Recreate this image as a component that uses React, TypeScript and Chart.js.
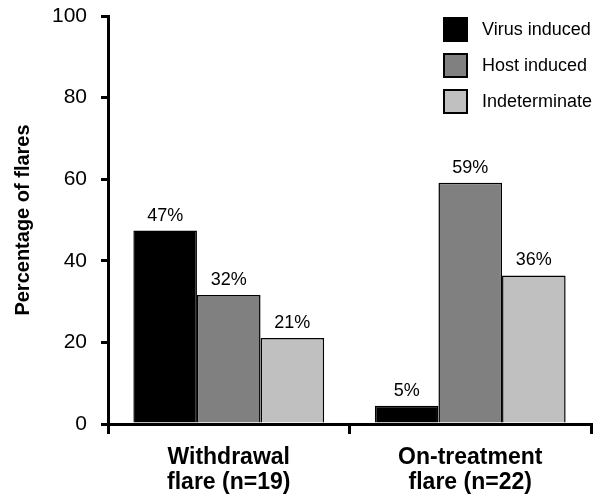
import React, { useEffect, useRef } from "react";
import { Chart, registerables } from "chart.js";

Chart.register(...registerables);

const categories: string[][] = [
  ["Withdrawal", "flare (n=19)"],
  ["On-treatment", "flare (n=22)"],
];
const seriesNames = ["Virus induced", "Host induced", "Indeterminate"];
const virusInduced = [47.4, 4.5];
const hostInduced = [31.6, 59.1];
const indeterminate = [21.1, 36.4];
const yTicks = [0, 20, 40, 60, 80, 100];
const colors = ["#000000", "#808080", "#c0c0c0"];

const FONT = '"Liberation Sans", Arial, Helvetica, sans-serif';

const labelPlugin = {
  id: "barLabels",
  afterDatasetsDraw(chart: any) {
    const ctx = chart.ctx;
    ctx.save();
    ctx.font = `18px ${FONT}`;
    ctx.fillStyle = "#000";
    ctx.textAlign = "center";
    ctx.textBaseline = "alphabetic";
    chart.data.datasets.forEach((ds: any, di: number) => {
      const meta = chart.getDatasetMeta(di);
      meta.data.forEach((bar: any, i: number) => {
        const v = ds.data[i];
        ctx.fillText(Math.round(v) + "%", bar.x, bar.y - 10);
      });
    });
    ctx.restore();
  },
};

const axisExtPlugin = {
  id: "axisExt",
  afterDraw(chart: any) {
    const ctx = chart.ctx;
    const area = chart.chartArea;
    ctx.save();
    ctx.strokeStyle = "#000";
    ctx.lineWidth = 3;
    ctx.beginPath();
    ctx.moveTo(area.left - 6, area.bottom + 0.5);
    ctx.lineTo(area.left, area.bottom + 0.5);
    ctx.stroke();
    ctx.restore();
  },
};

const legendPlugin = {
  id: "customLegend",
  afterDraw(chart: any) {
    const ctx = chart.ctx;
    const area = chart.chartArea;
    const boxX = area.right - 148;
    const startY = area.top + 1;
    const box = 25;
    const gap = 36;
    ctx.save();
    ctx.font = `18px ${FONT}`;
    ctx.textAlign = "left";
    ctx.textBaseline = "middle";
    chart.data.datasets.forEach((ds: any, i: number) => {
      const y = startY + i * gap;
      ctx.fillStyle = ds.backgroundColor;
      ctx.fillRect(boxX, y, box, box);
      ctx.lineWidth = 2;
      ctx.strokeStyle = "#000";
      ctx.strokeRect(boxX + 1, y + 1, box - 2, box - 2);
      ctx.fillStyle = "#000";
      ctx.fillText(ds.label, boxX + 39, y + box / 2 + 1);
    });
    ctx.restore();
  },
};

export default function App() {
  const ref = useRef<HTMLCanvasElement | null>(null);
  useEffect(() => {
    document.body.style.margin = "0";
    const canvas = ref.current;
    if (!canvas) return;
    const seriesData = [virusInduced, hostInduced, indeterminate];
    const chart = new Chart(canvas, {
      type: "bar",
      data: {
        labels: categories,
        datasets: seriesNames.map((name, i) => ({
          label: name,
          data: seriesData[i],
          backgroundColor: colors[i],
          borderColor: "#000",
          borderWidth: 1.5,
          barPercentage: 1,
          categoryPercentage: 0.79,
        })),
      },
      options: {
        animation: false,
        responsive: false,
        maintainAspectRatio: false,
        devicePixelRatio: 1,
        layout: { padding: { top: 16, right: 8, left: 0, bottom: 0 } },
        plugins: {
          legend: { display: false },
          tooltip: { enabled: false },
        },
        scales: {
          x: {
            grid: {
              display: true,
              offset: true,
              drawOnChartArea: false,
              drawTicks: true,
              tickLength: 10,
              lineWidth: 3,
              color: "#000",
            },
            border: { display: true, color: "#000", width: 3 },
            ticks: {
              color: "#000",
              padding: 12,
              maxRotation: 0,
              font: { family: FONT, size: 23, weight: "bold", lineHeight: 1.05 },
            },
            afterFit(scale: any) {
              scale.height = 70;
              scale.paddingLeft = 0;
              scale.paddingRight = 0;
            },
          },
          y: {
            min: 0,
            max: 100,
            afterBuildTicks(scale: any) {
              scale.ticks = yTicks.map((v) => ({ value: v }));
            },
            grid: {
              display: true,
              drawOnChartArea: false,
              drawTicks: true,
              tickLength: 7,
              lineWidth: 3,
              color: "#000",
            },
            border: { display: true, color: "#000", width: 3 },
            ticks: {
              color: "#000",
              padding: 14,
              font: { family: FONT, size: 21 },
            },
            title: {
              display: true,
              text: "Percentage of flares",
              color: "#000",
              padding: { top: 11, bottom: 0 },
              font: { family: FONT, size: 20, weight: "bold" },
            },
            afterFit(scale: any) {
              scale.width = 108;
              scale.paddingTop = 0;
              scale.paddingBottom = 0;
            },
          },
        },
      },
      plugins: [labelPlugin, legendPlugin, axisExtPlugin],
    } as any);
    return () => chart.destroy();
  }, []);
  return (
    <div style={{ width: 599, height: 494, background: "#fff" }}>
      <canvas ref={ref} width={599} height={494} style={{ display: "block" }} />
    </div>
  );
}
